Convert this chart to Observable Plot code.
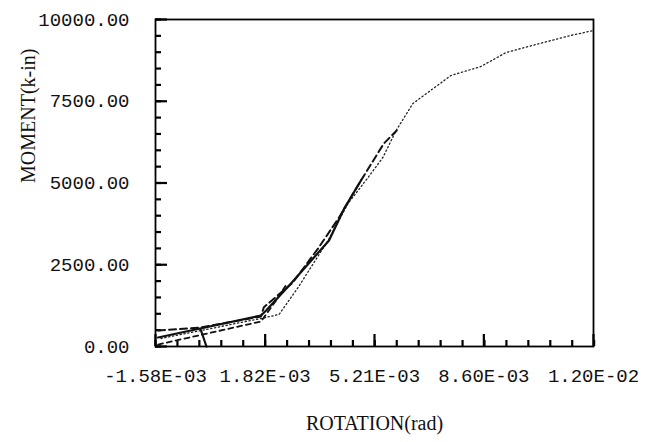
<!DOCTYPE html>
<html><head><meta charset="utf-8">
<script src="https://cdn.jsdelivr.net/npm/d3@7"></script>
<script src="https://cdn.jsdelivr.net/npm/@observablehq/plot@0.6"></script>
<style>body{margin:0;background:#fff}</style>
</head><body><div id="chart"></div>
<script>
// Axis ticks and labels
const xTicks = [-1.58e-3, 1.82e-3, 5.21e-3, 8.60e-3, 1.20e-2];
const xTickLabels = ["-1.58E-03", "1.82E-03", "5.21E-03", "8.60E-03", "1.20E-02"];
const yTicks = [0, 2500, 5000, 7500, 10000];
const yTickLabels = ["0.00", "2500.00", "5000.00", "7500.00", "10000.00"];
const xLabel = "ROTATION(rad)";
const yLabel = "MOMENT(k-in)";

// Series (rotation in rad, moment in k-in)
const solidRot    = [0, -0.19e-3, -1.50e-3, 1.69e-3, 1.85e-3, 2.62e-3, 3.80e-3, 4.27e-3, 4.79e-3];
const solidMoment = [0, 550, 275, 948, 1101, 1927, 3242, 4220, 5076];

const dashARot    = [-1.50e-3, -0.17e-3, 1.69e-3, 1.78e-3, 2.68e-3, 3.46e-3, 4.11e-3, 4.79e-3, 5.50e-3, 5.90e-3];
const dashAMoment = [489, 581, 917, 1200, 1957, 2997, 3945, 5076, 6208, 6606];

const dashBRot    = [-1.50e-3, 1.69e-3, 2.16e-3, 2.45e-3];
const dashBMoment = [61, 765, 1407, 1850];

const dotRot    = [-1.41e-3, 1.69e-3, 2.25e-3, 2.84e-3, 3.77e-3, 4.39e-3, 5.01e-3, 5.47e-3, 5.88e-3, 6.40e-3, 7.58e-3, 8.51e-3, 9.29e-3, 10.45e-3, 11.29e-3, 12.0e-3];
const dotMoment = [245, 856, 979, 1804, 3242, 4373, 5168, 5780, 6606, 7431, 8287, 8563, 8991, 9297, 9511, 9664];

const rows = (xs, ys) => xs.map((x, i) => ({r: x, m: ys[i]}));
const solid = rows(solidRot, solidMoment);
const dashA = rows(dashARot, dashAMoment);
const dashB = rows(dashBRot, dashBMoment);
const dotted = rows(dotRot, dotMoment);

const xMin = xTicks[0], xMax = xTicks[xTicks.length - 1];
const yMin = yTicks[0], yMax = yTicks[yTicks.length - 1];
const xStep = (xTicks[1] - xTicks[0]) / 5;
const xMinor = d3.range(0, 21).map(i => xMin + i * xStep);
const yMinor = d3.range(yMin, yMax + 1, 500);

const W = 651, H = 442, mL = 155, mR = 58, mT = 19, mB = 96;
const fw = W - mL - mR, fh = H - mT - mB;
// tick lengths in pixels, converted to data units along each axis
const xLen = px => xMin + (xMax - xMin) * px / fw;
const yLen = px => yMin + (yMax - yMin) * px / fh;

const serif = "'Liberation Serif', 'DejaVu Serif', serif";
const tickStyle = {stroke: "#000", strokeWidth: 2.2};

const chart = Plot.plot({
  width: W, height: H,
  marginLeft: mL, marginRight: mR, marginTop: mT, marginBottom: mB,
  style: {fontFamily: "'Liberation Mono', 'DejaVu Sans Mono', monospace", fontSize: "19px", color: "#111", background: "#fff"},
  x: {domain: [xMin, xMax]},
  y: {domain: [yMin, yMax]},
  marks: [
    Plot.axisX({ticks: xTicks, tickSize: 0, tickPadding: 22, label: null,
      tickFormat: d => xTickLabels[xTicks.indexOf(d)]}),
    Plot.axisY({ticks: yTicks, tickSize: 0, tickPadding: 26, label: null,
      tickFormat: d => yTickLabels[yTicks.indexOf(d)]}),
    Plot.ruleY(yMinor, {y: d => d, x1: () => xMin, x2: () => xLen(6), ...tickStyle}),
    Plot.ruleY(yTicks, {y: d => d, x1: () => xMin, x2: () => xLen(12), ...tickStyle}),
    Plot.ruleX(xMinor, {x: d => d, y1: () => yMin, y2: () => yLen(6), ...tickStyle}),
    Plot.ruleX(xTicks, {x: d => d, y1: () => yMin, y2: () => yLen(12), ...tickStyle}),
    Plot.line(dotted, {x: "r", y: "m", stroke: "#222", strokeWidth: 1.3, strokeDasharray: "1.3,2.6"}),
    Plot.line(dashB, {x: "r", y: "m", stroke: "#111", strokeWidth: 1.8, strokeDasharray: "5,4"}),
    Plot.line(dashA, {x: "r", y: "m", stroke: "#111", strokeWidth: 2, strokeDasharray: "7,4"}),
    Plot.line(solid, {x: "r", y: "m", stroke: "#111", strokeWidth: 2.2}),
    Plot.frame({stroke: "#000", strokeWidth: 1.8}),
    Plot.text([xLabel], {text: d => d, frameAnchor: "bottom", dy: 83, fontFamily: serif, fontSize: 20, fill: "#111"}),
    Plot.text([yLabel], {text: d => d, frameAnchor: "left", rotate: -90, dx: -127, fontFamily: serif, fontSize: 20, fill: "#111"})
  ]
});
document.getElementById("chart").appendChild(chart);
</script>
</body></html>
